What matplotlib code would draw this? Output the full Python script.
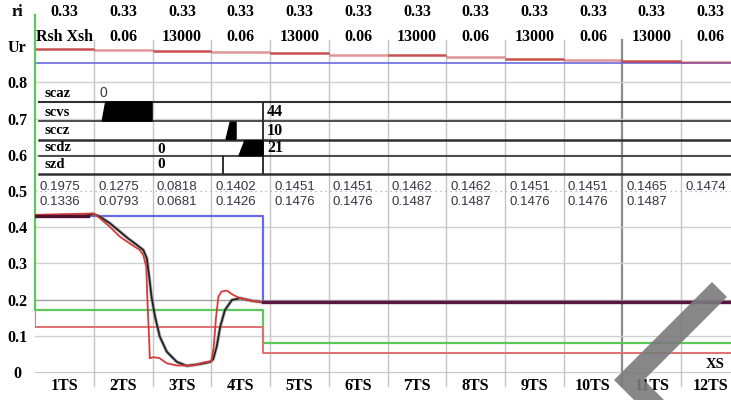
import numpy as np
import matplotlib
matplotlib.use("Agg")
from matplotlib import pyplot as plt
from matplotlib.patches import Polygon

plt.rcParams['font.family'] = ['Liberation Serif', 'DejaVu Serif']

# time slots along the x axis
ts_labels = ['1TS', '2TS', '3TS', '4TS', '5TS', '6TS', '7TS', '8TS', '9TS', '10TS', '11TS', '12TS']
y_labels = ['0', '0.1', '0.2', '0.3', '0.4', '0.5', '0.6', '0.7', '0.8', 'Ur', 'ri']

# header rows per slot
ri_row = ['0.33', '0.33', '0.33', '0.33', '0.33', '0.33', '0.33', '0.33', '0.33', '0.33', '0.33', '0.33']
rsh_row = ['Rsh Xsh', '0.06', '13000', '0.06', '13000', '0.06', '13000', '0.06', '13000', '0.06', '13000', '0.06']

# Ur levels per slot (red) and reference (blue)
ur_red = [0.891, 0.889, 0.887, 0.884, 0.880, 0.876, 0.876, 0.871, 0.865, 0.862, 0.860, 0.857]
ur_blue = 0.854

# numeric rows per slot
row_a = ['0.1975', '0.1275', '0.0818', '0.1402', '0.1451', '0.1451', '0.1462', '0.1462', '0.1451', '0.1451', '0.1465', '0.1474']
row_b = ['0.1336', '0.0793', '0.0681', '0.1426', '0.1476', '0.1476', '0.1487', '0.1487', '0.1476', '0.1476', '0.1487', '']

# status rows
st_names = ['scaz', 'scvs', 'sccz', 'scdz', 'szd']
st_text_y = [0.768, 0.718, 0.666, 0.619, 0.572]
st_lines = [0.746, 0.693, 0.641, 0.597, 0.547]
st_lw = [1.5, 1.2, 1.8, 1.2, 1.8]
scvs_x = [1.14, 1.20, 1.99, 1.99]
scvs_y = [0.693, 0.746, 0.746, 0.693]
sccz_x = [3.25, 3.32, 3.42, 3.42]
sccz_y = [0.643, 0.690, 0.690, 0.643]
scdz_x = [3.47, 3.57, 3.88, 3.88]
scdz_y = [0.597, 0.639, 0.639, 0.597]
szd_step = 3.20
st_end = ['44', '10', '21']

# measured curves
black_t = [0, 0.82, 1.0, 1.10, 1.27, 1.44, 1.58, 1.73, 1.84, 1.90, 1.94, 1.98, 2.04, 2.12, 2.24,
           2.41, 2.58, 2.81, 2.98, 3.03, 3.09, 3.15, 3.23, 3.35, 3.49, 3.71, 3.88]
black_v = [0.432, 0.432, 0.436, 0.429, 0.411, 0.388, 0.369, 0.351, 0.337, 0.314, 0.263, 0.208, 0.153,
           0.098, 0.056, 0.028, 0.017, 0.022, 0.028, 0.035, 0.070, 0.125, 0.171, 0.199, 0.204, 0.196, 0.193]
red_t = [0, 0.99, 1.10, 1.27, 1.44, 1.61, 1.78, 1.84, 1.89, 1.91, 1.94, 1.95, 2.02, 2.12, 2.24, 2.41,
         2.69, 2.86, 3.0, 3.04, 3.08, 3.12, 3.17, 3.26, 3.37, 3.49, 3.71, 3.88]
red_v = [0.434, 0.438, 0.425, 0.401, 0.374, 0.355, 0.337, 0.323, 0.291, 0.199, 0.088, 0.038, 0.041,
         0.038, 0.024, 0.018, 0.018, 0.026, 0.030, 0.070, 0.153, 0.208, 0.222, 0.225, 0.213, 0.204, 0.196, 0.193]

# step series: value before / after the switch
t_switch = 3.88
blue_lv = [0.431, 0.193]
green_lv = [0.986, 0.171, 0.080]
pink_lv = [0.165, 0.124, 0.052]

fig = plt.figure(figsize=(7.31, 4.0), dpi=100)
x_end = (731 - 35.3) / 58.7
ax = fig.add_axes([35.3 / 731, 28 / 400, (731 - 35.3) / 731, 372 / 400])
ax.set_xlim(0, x_end)
ax.set_ylim(0, 372 / 362)

for s in ['top', 'right', 'left']:
    ax.spines[s].set_visible(False)
ax.spines['bottom'].set_color('#c8c8c8')

# grid
for k in range(1, 12):
    c, w = ('#8c8c8c', 1.6) if k == 10 else ('#c4c4c4', 1.0)
    ax.plot([k, k], [-0.04, 0.917], color=c, lw=w, clip_on=False, zorder=1)
for g in np.arange(0.1, 0.85, 0.1):
    if abs(g - 0.5) < 1e-6:
        ax.axhline(g, color='#a8a8a8', lw=0.9, ls=(0, (1, 3)), zorder=1)
    else:
        ax.axhline(g, color='#a0a0a0' if abs(g - 0.2) < 1e-6 else '#cfcfcf', lw=1.0, zorder=1)

ax.set_yticks(np.arange(0, 1.01, 0.1))
ax.set_yticklabels(y_labels, fontsize=11.5, fontweight='bold')
for lab in ax.get_yticklabels():
    lab.set_horizontalalignment('center')
ax.tick_params(axis='y', length=0, pad=13)

ax.set_xticks(np.arange(1, 12), labels=[''] * 11)
ax.set_xticks(np.arange(0.5, 12), labels=ts_labels, minor=True)
ax.tick_params(axis='x', which='major', length=0)
ax.tick_params(axis='x', which='minor', length=0, pad=4, labelsize=11.5)
for lab in ax.get_xticklabels(minor=True):
    lab.set_fontweight('bold')

# header
for k in range(12):
    ax.text(k + 0.5, 0.995, ri_row[k], ha='center', va='center', fontsize=11.5, fontweight='bold')
    ax.text(k + 0.5, 0.925, rsh_row[k], ha='center', va='center', fontsize=11.5, fontweight='bold')

# Ur lines
for k in range(12):
    ax.plot([k, k + 1], [ur_red[k], ur_red[k]], color='#c03030', lw=1.8,
            alpha=0.85 if k % 2 == 0 else 0.5, solid_capstyle='butt', zorder=3)
ax.axhline(ur_blue, color='#6a6ae0', lw=1.2, zorder=2)

# status table
for y, w in zip(st_lines, st_lw):
    ax.plot([0.06, x_end], [y, y], color='#303030', lw=w, zorder=3)
for name, y in zip(st_names, st_text_y):
    ax.text(0.15, y, name, ha='left', va='center', fontsize=10.5, fontweight='bold')
ax.fill(scvs_x, scvs_y, color='black', zorder=4)
ax.fill(sccz_x, sccz_y, color='black', zorder=4)
ax.fill(scdz_x, scdz_y, color='black', zorder=4)
ax.plot([szd_step, szd_step], [st_lines[4], st_lines[3]], color='#303030', lw=1.4, zorder=3)
ax.plot([t_switch, t_switch], [st_lines[4], st_lines[0]], color='#303030', lw=1.4, zorder=3)
ax.text(1.10, 0.771, '0', ha='left', va='center', fontsize=10, family='Liberation Sans', color='#333344')
ax.text(2.08, 0.616, '0', ha='left', va='center', fontsize=11, fontweight='bold')
ax.text(2.08, 0.574, '0', ha='left', va='center', fontsize=11, fontweight='bold')
for txt, y in zip(st_end, st_text_y[1:4]):
    ax.text(3.95, y, txt, ha='left', va='center', fontsize=11.5, fontweight='bold')

# numeric rows
for k in range(12):
    ax.text(k + 0.07, 0.511, row_a[k], ha='left', va='center', fontsize=9.5,
            family='Liberation Sans', color='#353545')
    ax.text(k + 0.07, 0.470, row_b[k], ha='left', va='center', fontsize=9.5,
            family='Liberation Sans', color='#353545')

# step series
ax.plot([0, 0, t_switch, t_switch, x_end], [green_lv[0], green_lv[1], green_lv[1], green_lv[2], green_lv[2]],
        color='#5cc85c', lw=1.6, zorder=5, clip_on=False)
ax.plot([0, 0, t_switch, t_switch, x_end], [pink_lv[0], pink_lv[1], pink_lv[1], pink_lv[2], pink_lv[2]],
        color='#e07070', lw=1.4, zorder=5)
ax.plot([0, t_switch, t_switch, x_end], [blue_lv[0], blue_lv[0], blue_lv[1], blue_lv[1]],
        color='#6a6ae6', lw=1.6, zorder=5)

# measured curves
ax.plot(black_t, black_v, color='#909090', lw=2.6, alpha=0.6, zorder=6)
ax.plot(black_t, black_v, color='#202020', lw=1.3, zorder=7)
ax.plot(red_t, red_v, color='#d83a3a', lw=1.3, zorder=7)
ax.plot([0, 0.9], [0.432, 0.432], color='#501030', lw=2.4, zorder=8)
ax.plot([t_switch, x_end], [blue_lv[1], blue_lv[1]], color='#5a1640', lw=2.4, zorder=8)

ax.text(11.58, 0.02, 'XS', ha='center', va='center', fontsize=10.5, fontweight='bold')

# gray chevron overlay, outline given in pixels from the top-left corner
chev_px = np.array([[614, 380], [712, 282], [727, 297], [644, 380], [670, 406], [640, 406]])
chev_xy = np.column_stack([chev_px[:, 0] / 731, 1 - chev_px[:, 1] / 400])
fig.add_artist(Polygon(chev_xy, closed=True, transform=fig.transFigure,
                       facecolor='#7a7a7a', edgecolor='none', alpha=0.9, zorder=20))

fig.savefig('out.png', dpi=100)
